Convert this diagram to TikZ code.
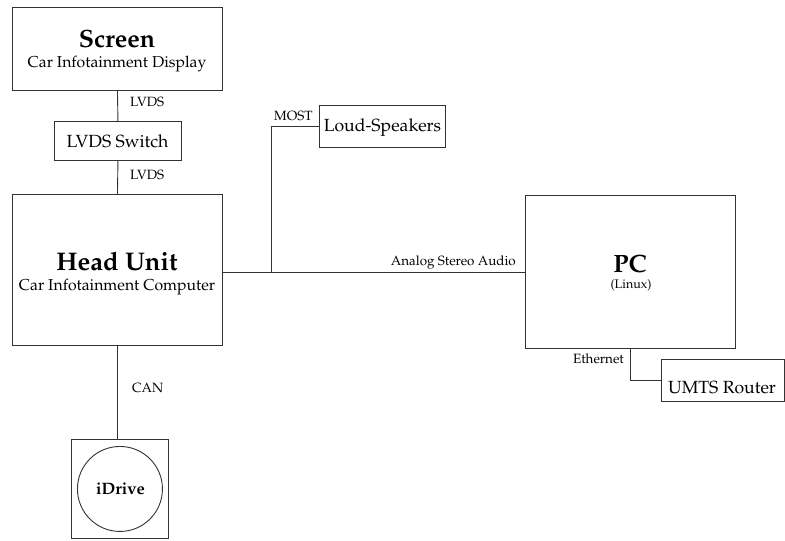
\documentclass[tikz,border=0pt]{standalone}
\usepackage[T1]{fontenc}
\usepackage{mathpazo}
\begin{document}
\begin{tikzpicture}[x=1pt,y=-1pt,
  wire/.style={draw=black!80, line width=0.9pt},
  box/.style={draw=black!80, line width=0.9pt, anchor=north west, inner sep=0pt},
  big/.style={font=\fontsize{17.6}{20}\selectfont},
  txt/.style={anchor=base, inner sep=0pt},
  lbl/.style={font=\fontsize{13.4}{15}\selectfont, inner sep=0pt}]
\useasboundingbox (0,0) rectangle (785,541);

% unit frames
\node[box, minimum width=210pt, minimum height=83pt] (screen) at (12,7) {};
\node[box, minimum width=127pt, minimum height=39pt] (switch) at (54,121) {};
\node[box, minimum width=210pt, minimum height=151pt] (hu) at (12,194) {};
\node[box, minimum width=126pt, minimum height=42pt] (spk) at (319,105) {};
\node[box, minimum width=210pt, minimum height=153pt] (pc) at (525,195) {};
\node[box, minimum width=123pt, minimum height=42pt] (umts) at (661,359) {};
\node[box, minimum width=97pt, minimum height=99pt] (idrivebox) at (71,439) {};
\node[draw=black!80, line width=0.9pt, circle, minimum size=85pt, inner sep=0pt] (idrive) at (idrivebox.center) {};

% unit texts
\node[txt, font=\fontsize{25}{28}\selectfont\bfseries] (screent) at (117,47) {Screen};
\node[txt, font=\fontsize{15.8}{18}\selectfont] (screens) at (117,67) {Car Infotainment Display};
\node[txt, big] (switcht) at (117.5,147) {LVDS Switch};
\node[txt, font=\fontsize{25.5}{28}\selectfont\bfseries] (hut) at (117,270) {Head Unit};
\node[txt, font=\fontsize{15.8}{18}\selectfont] (hus) at (117,290) {Car Infotainment Computer};
\node[txt, big] (spkt) at (382.5,131) {Loud-Speakers};
\node[txt, font=\fontsize{25}{28}\selectfont\bfseries] (pct) at (630,272) {PC};
\node[txt, font=\fontsize{12.5}{14}\selectfont] (pcs) at (631,288) {(Linux)};
\node[txt, big] (umtst) at (722,393) {UMTS Router};
\node[txt, font=\fontsize{16.5}{18}\selectfont\bfseries] (idrivet) at (120.5,494) {iDrive};

% connections
\draw[wire] (screen.south) -- (switch.north);
\draw[wire] (switch.south) -- (hu.north);
\draw[wire] (hu.east) ++(0,2.5) coordinate (hua) -- (hua -| pc.west);
\draw[wire] (hua) -- ++(49,0) coordinate (j) |- (spk.west);
\draw[wire] (pc.south) |- (umts.west);
\draw[wire] (hu.south) -- (hu.south |- idrivebox.north);

% connection labels
\node[lbl, anchor=base west] (l1) at (130,106) {LVDS};
\node[lbl, anchor=base west] (l2) at (130,179) {LVDS};
\node[lbl, anchor=base west] (l3) at (274,120) {MOST};
\node[lbl, anchor=base east] (l4) at (516,265) {Analog Stereo Audio};
\node[lbl, anchor=base east] (l5) at (624,363) {Ethernet};
\node[lbl, anchor=base west] (l6) at (132,392) {CAN};
\end{tikzpicture}
\end{document}
